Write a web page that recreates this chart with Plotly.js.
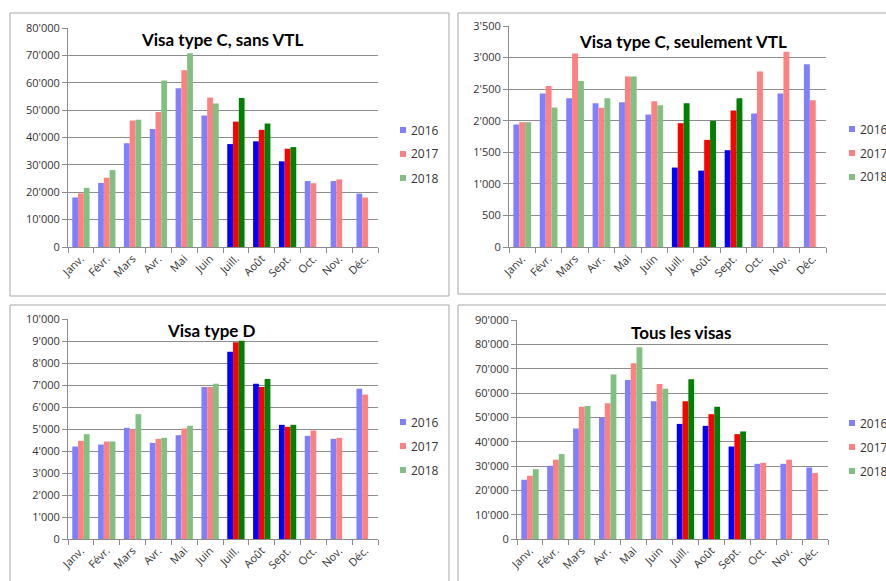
<!DOCTYPE html>
<html>
<head>
<meta charset="utf-8">
<script src="https://cdn.plot.ly/plotly-3.0.1.min.js"></script>
<style>html,body{margin:0;padding:0;background:#fff;}#chart{width:886px;height:581px;}</style>
</head>
<body>
<div id="chart"></div>
<script>
const months = ["Janv.","Févr.","Mars","Avr.","Mai","Juin","Juill.","Août","Sept.","Oct.","Nov.","Déc."];
const years = ["2016","2017","2018"];
const highlightMonths = ["Juill.","Août","Sept."];

const titles = ["Visa type C, sans VTL","Visa type C, seulement VTL","Visa type D","Tous les visas"];

// Visa type C, sans VTL
const cSans2016 = [18100,23400,37900,43100,58000,48000,37600,38600,31300,24100,24100,19500];
const cSans2017 = [19600,25300,46200,49300,64600,54600,45800,42800,35900,23300,24700,18100];
const cSans2018 = [21600,28100,46500,60800,70800,52400,54400,45100,36500,null,null,null];

// Visa type C, seulement VTL
const cVtl2016 = [1940,2431,2357,2278,2294,2098,1258,1210,1533,2114,2431,2896];
const cVtl2017 = [1977,2548,3066,2204,2701,2310,1961,1697,2162,2780,3092,2326];
const cVtl2018 = [1977,2209,2627,2357,2701,2246,2278,1998,2357,null,null,null];

// Visa type D
const d2016 = [4203,4294,5053,4370,4719,6904,8513,7056,5190,4689,4552,6829];
const d2017 = [4461,4431,4992,4552,5023,6904,8938,6904,5099,4932,4598,6571];
const d2018 = [4765,4431,5675,4598,5144,7056,9014,7269,5190,null,null,null];

// Tous les visas
const tous2016 = [24350,30100,45400,49900,65300,56600,47300,46500,38000,30900,30900,29400];
const tous2017 = [26000,32600,54300,55800,72200,63700,56600,51300,43100,31300,32600,27100];
const tous2018 = [28700,34900,54700,67600,78800,61700,65700,54300,44200,null,null,null];

const panelData = [
  [cSans2016,cSans2017,cSans2018],
  [cVtl2016,cVtl2017,cVtl2018],
  [d2016,d2017,d2018],
  [tous2016,tous2017,tous2018]
];

const lightColors = ["#8080ff","#ff8080","#80c080"];
const brightColors = ["#0000ff","#ff0000","#008000"];

const W = 886, H = 581;
const px = v => v / W;
const py = v => 1 - v / H;

// panel geometry (pixels)
const panels = [
  {plot:[68,378,28,247], box:[10,449,13,296], title:[222,40], legend:[400,130], range:[0,80000], dtick:10000},
  {plot:[509,826,26,247], box:[458,900,13,294], title:[683,41], legend:[849,129], range:[0,3500], dtick:500},
  {plot:[68,378,319,539], box:[10,449,305,600], title:[211,330], legend:[400,422], range:[0,10000], dtick:1000},
  {plot:[517,828,320,539], box:[458,900,305,600], title:[681,332], legend:[849,423], range:[0,90000], dtick:10000}
];

const traces = [];
const layout = {
  width: W, height: H,
  margin: {l:0,r:0,t:0,b:0},
  paper_bgcolor: "#ffffff",
  plot_bgcolor: "rgba(0,0,0,0)",
  barmode: "group",
  bargap: 0.33,
  bargroupgap: 0,
  separators: ".'",
  showlegend: false,
  font: {family: "Open Sans, Noto Sans, sans-serif", size: 11, color: "#333333"},
  shapes: [],
  annotations: []
};

panels.forEach((p, i) => {
  const n = i + 1;
  const xa = n === 1 ? "x" : "x" + n;
  const ya = n === 1 ? "y" : "y" + n;
  const xKey = n === 1 ? "xaxis" : "xaxis" + n;
  const yKey = n === 1 ? "yaxis" : "yaxis" + n;

  panelData[i].forEach((vals, k) => {
    traces.push({
      type: "bar",
      name: years[k],
      x: months,
      y: vals,
      xaxis: xa, yaxis: ya,
      marker: {
        color: months.map(m => highlightMonths.includes(m) ? brightColors[k] : lightColors[k]),
        line: {width: 0}
      },
      hoverinfo: "x+y+name"
    });
  });

  layout[xKey] = {
    domain: [px(p.plot[0]), px(p.plot[1])],
    anchor: ya,
    type: "category",
    tickangle: -45,
    showline: true, linecolor: "#8c8c8c", linewidth: 1,
    ticks: "outside", tickson: "boundaries", ticklen: 5, tickcolor: "#8c8c8c",
    showgrid: false,
    tickfont: {size: 11, color: "#333333"},
    fixedrange: true
  };
  layout[yKey] = {
    domain: [py(p.plot[3]), py(p.plot[2])],
    anchor: xa,
    range: p.range,
    dtick: p.dtick,
    tickformat: ",",
    showline: true, linecolor: "#8c8c8c", linewidth: 1,
    ticks: "outside", ticklen: 5, tickcolor: "#8c8c8c",
    showgrid: true, gridcolor: "#8c8c8c", gridwidth: 1,
    zeroline: false,
    tickfont: {size: 11, color: "#333333"},
    fixedrange: true
  };

  // panel border
  layout.shapes.push({
    type: "rect", xref: "paper", yref: "paper",
    x0: px(p.box[0]), x1: px(p.box[1]), y0: py(p.box[3]), y1: py(p.box[2]),
    line: {color: "#a6a6a6", width: 1}, fillcolor: "rgba(0,0,0,0)", layer: "below"
  });

  // title
  layout.annotations.push({
    xref: "paper", yref: "paper",
    x: px(p.title[0]), y: py(p.title[1]),
    xanchor: "center", yanchor: "middle",
    text: "<b>" + titles[i] + "</b>",
    showarrow: false,
    font: {family: "Lato, Open Sans, sans-serif", size: 17, color: "#000000"}
  });

  // legend
  years.forEach((yr, k) => {
    const cy = p.legend[1] + k * 24;
    layout.shapes.push({
      type: "rect", xref: "paper", yref: "paper",
      x0: px(p.legend[0]), x1: px(p.legend[0] + 6),
      y0: py(cy + 3), y1: py(cy - 3),
      line: {width: 0}, fillcolor: lightColors[k]
    });
    layout.annotations.push({
      xref: "paper", yref: "paper",
      x: px(p.legend[0] + 9), y: py(cy),
      xanchor: "left", yanchor: "middle",
      text: yr, showarrow: false,
      font: {size: 12, color: "#333333"}
    });
  });
});

Plotly.newPlot("chart", traces, layout, {displayModeBar: false, staticPlot: true});
</script>
</body>
</html>
